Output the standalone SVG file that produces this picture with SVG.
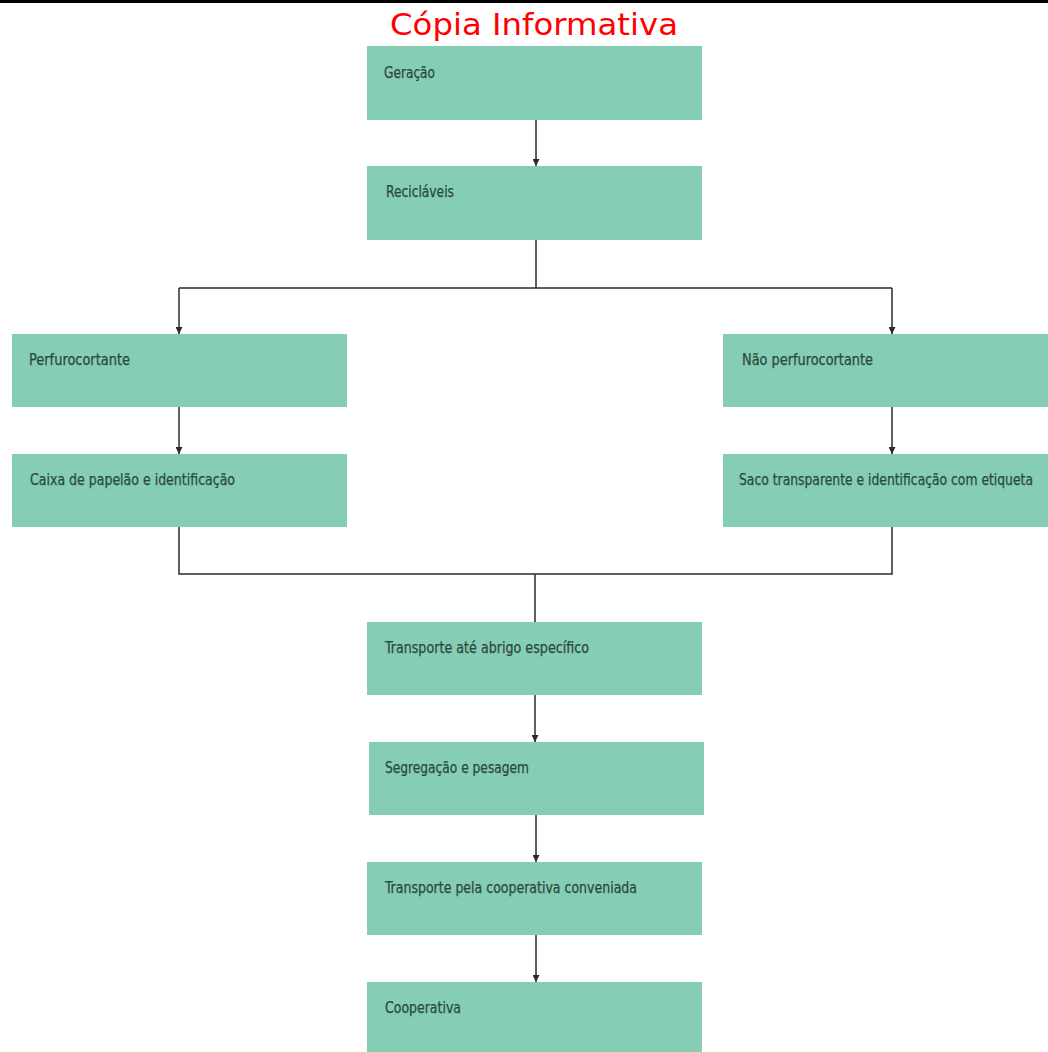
<svg xmlns="http://www.w3.org/2000/svg" width="1048" height="1052" viewBox="0 0 1048 1052">
  <style>
    .box { fill: #86cdb5; }
    .lbl { font-family: "DejaVu Sans Condensed", "DejaVu Sans", sans-serif; font-size: 15px; fill: #2a4a40; stroke: #2a4a40; stroke-width: 0.25; }
    .wire { fill: none; stroke: #2a2a2a; stroke-width: 1.5; }
    .title { font-family: "DejaVu Sans", Verdana, sans-serif; font-size: 30px; fill: #ff0000; }
  </style>
  <defs>
    <marker id="arrow" viewBox="0 0 10 10" refX="10" refY="5" markerWidth="8" markerHeight="7" markerUnits="userSpaceOnUse" orient="auto">
      <path d="M0,0 L10,5 L0,10 z" fill="#2a2a2a"/>
    </marker>
  </defs>

  <rect width="1048" height="1052" fill="#ffffff"/>
  <rect x="0" y="0" width="1048" height="3" fill="#000000"/>
  <text class="title" x="534" y="35" text-anchor="middle" textLength="288" lengthAdjust="spacingAndGlyphs">Cópia Informativa</text>

  <g id="connectors">
    <line class="wire" x1="536" y1="120" x2="536" y2="166" marker-end="url(#arrow)"/>
    <polyline class="wire" points="536,240 536,288"/>
    <polyline class="wire" points="179,288 892,288"/>
    <line class="wire" x1="179" y1="288" x2="179" y2="334" marker-end="url(#arrow)"/>
    <line class="wire" x1="892" y1="288" x2="892" y2="334" marker-end="url(#arrow)"/>
    <line class="wire" x1="179" y1="407" x2="179" y2="454" marker-end="url(#arrow)"/>
    <line class="wire" x1="892" y1="407" x2="892" y2="454" marker-end="url(#arrow)"/>
    <polyline class="wire" points="179,527 179,574 892,574 892,527"/>
    <line class="wire" x1="535" y1="574" x2="535" y2="622"/>
    <line class="wire" x1="535" y1="695" x2="535" y2="742" marker-end="url(#arrow)"/>
    <line class="wire" x1="536" y1="815" x2="536" y2="862" marker-end="url(#arrow)"/>
    <line class="wire" x1="536" y1="935" x2="536" y2="982" marker-end="url(#arrow)"/>
  </g>

  <g id="geracao">
    <rect class="box" x="367" y="46" width="335" height="74"/>
    <text class="lbl" x="384" y="78" textLength="51" lengthAdjust="spacingAndGlyphs">Geração</text>
  </g>
  <g id="reciclaveis">
    <rect class="box" x="367" y="166" width="335" height="74"/>
    <text class="lbl" x="386" y="197" textLength="68" lengthAdjust="spacingAndGlyphs">Recicláveis</text>
  </g>
  <g id="perfurocortante">
    <rect class="box" x="12" y="334" width="335" height="73"/>
    <text class="lbl" x="29" y="365" textLength="101" lengthAdjust="spacingAndGlyphs">Perfurocortante</text>
  </g>
  <g id="nao-perfurocortante">
    <rect class="box" x="723" y="334" width="325" height="73"/>
    <text class="lbl" x="742" y="365" textLength="131" lengthAdjust="spacingAndGlyphs">Não perfurocortante</text>
  </g>
  <g id="caixa-papelao">
    <rect class="box" x="12" y="454" width="335" height="73"/>
    <text class="lbl" x="30" y="485" textLength="205" lengthAdjust="spacingAndGlyphs">Caixa de papelão e identificação</text>
  </g>
  <g id="saco-transparente">
    <rect class="box" x="723" y="454" width="325" height="73"/>
    <text class="lbl" x="739" y="485" textLength="294" lengthAdjust="spacingAndGlyphs">Saco transparente e identificação com etiqueta</text>
  </g>
  <g id="transporte-abrigo">
    <rect class="box" x="367" y="622" width="335" height="73"/>
    <text class="lbl" x="385" y="653" textLength="204" lengthAdjust="spacingAndGlyphs">Transporte até abrigo específico</text>
  </g>
  <g id="segregacao">
    <rect class="box" x="369" y="742" width="335" height="73"/>
    <text class="lbl" x="385" y="773" textLength="144" lengthAdjust="spacingAndGlyphs">Segregação e pesagem</text>
  </g>
  <g id="transporte-cooperativa">
    <rect class="box" x="367" y="862" width="335" height="73"/>
    <text class="lbl" x="385" y="893" textLength="252" lengthAdjust="spacingAndGlyphs">Transporte pela cooperativa conveniada</text>
  </g>
  <g id="cooperativa">
    <rect class="box" x="367" y="982" width="335" height="70"/>
    <text class="lbl" x="385" y="1013" textLength="76" lengthAdjust="spacingAndGlyphs">Cooperativa</text>
  </g>
</svg>
